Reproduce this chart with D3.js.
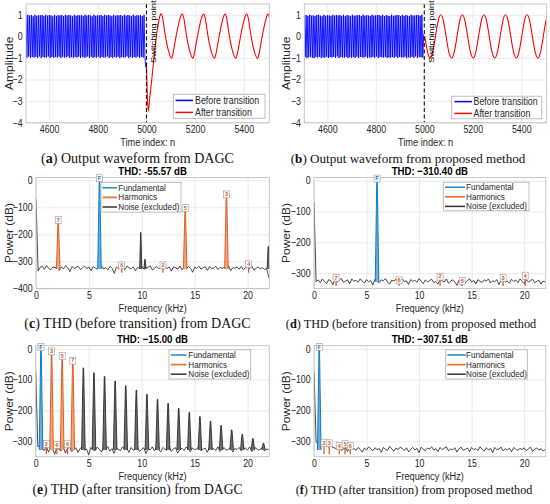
<!DOCTYPE html>
<html><head><meta charset="utf-8">
<script src="https://cdn.jsdelivr.net/npm/d3@7"></script>
<style>body{margin:0;background:#fff}</style>
</head><body><svg id="chart" width="550" height="504"></svg>
<script>
// ---------------- DATA ----------------
const timeTicks = [4600, 4800, 5000, 5200, 5400];
const ampTicks = [-4, -3, -2, -1, 0, 1];
const freqTicks = [0, 5, 10, 15, 20];
const dbTicksC = [-400, -300, -200, -100, 0];
const dbTicks = [-300, -200, -100, 0];
const switchN = 5000;
const blueStartN = 4505, blueHalfPeriod = 3.675;   // sample index of first extreme, samples between extremes
const blueA = [0.97,-0.99,1.00,-0.94,0.96,-1.00,0.99,-0.96,0.93,-0.98,1.00,-0.95,0.95,-0.99,0.98,-0.93,0.97,-1.00,0.99,-0.95,
0.94,-0.98,1.00,-0.97,0.96,-0.93,0.99,-1.00,0.97,-0.95,0.93,-0.99,1.00,-0.96,0.95,-0.98,0.98,-0.94,0.97,-1.00,
0.99,-0.95,0.94,-0.98,1.00,-0.97,0.96,-0.93,0.99,-1.00,0.97,-0.96,0.93,-0.99,1.00,-0.95,0.95,-0.98,0.98,-0.94,
0.97,-1.00,0.99,-0.96,0.94,-0.98,1.00,-0.97,0.96,-0.93,0.99,-1.00,0.97,-0.95,0.93,-0.99,1.00,-0.96,0.95,-0.98,
0.98,-0.94,0.97,-1.00,0.99,-0.95,0.94,-0.98,1.00,-0.97,0.96,-0.93,0.99,-1.00,0.97,-0.96,0.93,-0.99,1.00,-0.95,
0.95,-0.98,0.98,-0.94,0.97,-1.00,0.99,-0.96,0.94,-0.98,1.00,-0.97,0.96,-0.93,0.99,-1.00,0.97,-0.95,0.93,-0.99,
1.00,-0.96,0.95,-0.98,0.98,-0.94,0.97,-1.00,0.99,-0.95,0.94,-0.98,1.00,-0.97,-1.45];
const blueB = [0.98,-0.96,0.99,-1.00,0.95,-0.97,1.00,-0.94,0.96,-0.99,0.97,-1.00,0.94,-0.96,0.99,-0.98,1.00,-0.95,0.96,-0.99,
0.93,-0.97,1.00,-0.99,0.95,-0.94,0.98,-1.00,0.97,-0.96,0.94,-0.98,1.00,-0.95,0.96,-0.99,0.99,-0.93,0.97,-1.00,
0.98,-0.96,0.95,-0.97,1.00,-0.98,0.94,-0.95,0.99,-1.00,0.96,-0.97,0.93,-0.98,1.00,-0.96,0.95,-0.99,0.97,-0.94,
0.98,-1.00,0.99,-0.95,0.94,-0.97,1.00,-0.98,0.95,-0.94,0.99,-1.00,0.96,-0.97,0.94,-0.98,1.00,-0.95,0.96,-0.99,
0.97,-0.93,0.98,-1.00,0.99,-0.96,0.95,-0.97,1.00,-0.98,0.94,-0.95,0.99,-1.00,0.96,-0.97,0.94,-0.98,1.00,-0.96,
0.95,-0.99,0.97,-0.94,0.98,-1.00,0.99,-0.95,0.94,-0.97,1.00,-0.98,0.95,-0.94,0.99,-1.00,0.96,-0.97,0.93,-0.98,
1.00,-0.95,0.96,-0.99,0.97,-0.93,0.98,-1.00,0.99,-0.96,0.95,-0.97,1.00,-0.98,0.10];
const redA = [[5000,-1.3],[5004,-2.9],[5008,-3.45],[5013,-2.9],[5021,-2.1],[5031,-1.0],[5042,0.1],[5052,0.8],[5058,1.02],[5061,1.05],
[5066,0.88],[5074,0.3],[5084,-0.35],[5094,-0.8],[5103,-1.02],[5108,-0.85],[5117,-0.3],[5127,0.3],[5137,0.8],[5144,1.0],[5148,1.04],
[5153,0.88],[5161,0.3],[5171,-0.35],[5181,-0.8],[5191,-1.02],[5196,-0.85],[5205,-0.3],[5215,0.3],[5225,0.8],[5232,1.0],[5236,1.04],
[5241,0.88],[5249,0.3],[5259,-0.35],[5269,-0.8],[5280,-1.02],[5285,-0.85],[5294,-0.3],[5304,0.3],[5314,0.8],[5320,1.0],[5324,1.04],
[5329,0.88],[5337,0.3],[5347,-0.35],[5357,-0.8],[5368,-1.02],[5373,-0.85],[5382,-0.3],[5392,0.3],[5402,0.8],[5409,1.0],[5413,1.04],
[5418,0.88],[5426,0.3],[5436,-0.35],[5446,-0.8],[5457,-1.02],[5462,-0.85],[5471,-0.3],[5481,0.3],[5491,0.8],[5497,1.0],[5501,1.04],[5506,0.88]];
const redB = [[5002,0],[5013,-0.71],[5024,-1],[5035,-0.71],[5046,0],[5057,0.71],[5068,1],[5079,0.71],[5090,0],[5101,-0.71],[5113,-1],
[5124,-0.71],[5135,0],[5146,0.71],[5157,1],[5168,0.71],[5179,0],[5190,-0.71],[5202,-1],[5213,-0.71],[5224,0],[5235,0.71],[5246,1],
[5257,0.71],[5268,0],[5279,-0.71],[5291,-1],[5302,-0.71],[5313,0],[5324,0.71],[5335,1],[5346,0.71],[5357,0],[5368,-0.71],[5380,-1],
[5391,-0.71],[5402,0],[5413,0.71],[5424,1],[5435,0.71],[5446,0],[5457,-0.71],[5469,-1],[5480,-0.71],[5491,0],[5502,0.71],[5513,1]];

const noiseStepKHz = 0.2;
const noiseC = [-70,-335,-322,-318,-329,-316,-326,-331,-320,-324,-317,-333,-321,-327,-315,-323,-338,-319,-326,-322,
-318,-330,-324,-317,-327,-321,-334,-319,-325,-329,-320,-316,-328,-323,-331,-318,-326,-344,-321,-327,
-319,-325,-330,-317,-323,-328,-320,-335,-322,-326,-318,-329,-324,-321,-316,-332,-325,-319,-327,-323,
-330,-318,-326,-321,-336,-320,-324,-328,-317,-331,-322,-327,-319,-325,-340,-321,-326,-318,-329,-323,
-320,-333,-319,-327,-324,-318,-330,-322,-326,-321,-328,-317,-334,-323,-325,-320,-329,-319,-331,-324,
-321,-327,-318,-332,-325,-320,-328,-323,-330,-326,-360];
const noiseD = [-70,-328,-322,-331,-319,-327,-334,-321,-325,-338,-320,-329,-324,-317,-330,-326,-322,-335,-319,-327,
-323,-330,-318,-326,-333,-321,-328,-324,-339,-320,-327,-331,-322,-325,-318,-329,-336,-323,-326,-320,
-332,-324,-319,-328,-325,-337,-321,-327,-323,-330,-318,-326,-334,-322,-329,-324,-320,-331,-327,-336,
-321,-325,-329,-319,-333,-326,-322,-328,-340,-323,-327,-320,-331,-325,-318,-329,-324,-335,-321,-327,
-330,-322,-326,-319,-332,-325,-328,-321,-337,-324,-318,-329,-326,-333,-320,-327,-323,-331,-319,-326,
-334,-322,-328,-325,-320,-331,-327,-323,-336,-326,-329];
const noiseE = [-72,-318,-314,-322,-330,-316,-335,-321,-326,-342,-318,-327,-331,-320,-338,-324,-319,-333,-327,-321,
-336,-323,-318,-329,-325,-344,-320,-327,-331,-319,-326,-335,-322,-328,-317,-332,-324,-339,-321,-326,
-330,-318,-327,-323,-336,-320,-329,-325,-319,-333,-326,-321,-340,-324,-328,-318,-331,-322,-327,-335,
-320,-326,-329,-317,-333,-324,-321,-338,-327,-322,-330,-319,-325,-334,-321,-328,-324,-318,-331,-326,
-322,-336,-320,-327,-324,-330,-318,-333,-325,-321,-329,-326,-319,-335,-323,-327,-320,-331,-325,-322,
-328,-318,-333,-324,-321,-329,-326,-320,-332,-325,-328];
const noiseF = [-72,-300,-312,-308,-314,-310,-313,-318,-315,-320,-322,-326,-318,-330,-324,-321,-333,-319,-327,-323,
-329,-320,-326,-335,-322,-328,-318,-325,-331,-321,-327,-324,-336,-320,-326,-329,-317,-325,-332,-322,
-327,-319,-324,-330,-321,-334,-326,-320,-328,-323,-337,-319,-326,-331,-322,-325,-318,-329,-324,-333,
-320,-327,-322,-318,-331,-325,-328,-321,-335,-324,-319,-329,-326,-322,-333,-320,-327,-324,-330,-318,
-326,-332,-321,-328,-323,-337,-320,-327,-325,-319,-331,-324,-328,-322,-334,-320,-326,-329,-323,-327,
-321,-330,-325,-319,-333,-326,-322,-328,-324,-331,-327];

// peaks: [frequency kHz, top dB, label]
const fundC = [[6.0, 0, 'F']];
const harmC = [[2.1,-155,'7'],[8.1,-322,'6'],[12.0,-322,'2'],[14.1,-110,'5'],[18.0,-60,'3'],[20.1,-318,'4']];
const spikesC = [[9.9,-193],[10.3,-292],[21.95,-245]];
const fundD = [[6.0, 0, 'F']];
const harmD = [[2.1,-322,'7'],[8.1,-330,'6'],[12.0,-318,'2'],[14.1,-332,'5'],[18.0,-322,'3'],[20.1,-315,'4']];
const spikesD = [];
const fundE = [[0.5, 0, 'F']];
const harmE = [[1.0,-315,'2'],[1.5,-15,'3'],[2.0,-318,'4'],[2.5,-30,'5'],[3.0,-316,'6'],[3.5,-45,'7']];
const spikesE = [[4.5,-62],[5.5,-78],[6.5,-90],[7.5,-105],[8.5,-120],[9.5,-134],[10.5,-148],[11.5,-164],[12.5,-177],
[13.5,-193],[14.5,-206],[15.5,-220],[16.5,-235],[17.5,-249],[18.5,-263],[19.5,-277],[20.5,-291],[21.5,-306]];
const fundF = [[0.5, 0, 'F']];
const harmF = [[0.95,-313,'2'],[1.45,-313,'3'],[2.4,-322,'4'],[2.95,-316,'5'],[3.45,-322,'6']];
const spikesF = [];

const thdTitles = ['THD: -55.57 dB', 'THD: \u2212310.40 dB', 'THD: \u221215.00 dB', 'THD: \u2212307.51 dB'];
const waveLegend = ['Before transition', 'After transition'];
const specLegend = ['Fundamental', 'Harmonics', 'Noise (excluded)'];
const captions = [
  ['a', ' Output waveform from DAGC'], ['b', ' Output waveform from proposed method'],
  ['c', ' THD (before transition) from DAGC'], ['d', ' THD (before transition) from proposed method'],
  ['e', ' THD (after transition) from DAGC'], ['f', ' THD (after transition) from proposed method']];

// ---------------- DRAWING ----------------
const SQ = 0.84;
const SANS = '"Liberation Sans", Arial, Helvetica, sans-serif';
const SERIF = '"Liberation Serif", "Times New Roman", serif';
const svg = d3.select('#chart');
const C = {blue:'#0000ff', red:'#ff0000', fund:'#0072bd', fundFill:'#6aaee2', harm:'#d95319', harmFill:'#f2a57c',
  noise:'#1a1a1a', spikeFill:'#707070', grid:'#e6e6e6', frame:'#c2c2c2', tick:'#262626'};

function txt(parent, x, y, s, o = {}) {
  const sq = o.sq != null ? o.sq : SQ;
  const tr = `translate(${x},${y})` + (o.rot ? ` rotate(${o.rot}) scale(1,${sq})` : ` scale(${sq},1)`);
  return parent.append('text').attr('transform', tr)
    .attr('font-family', o.family || SANS).attr('font-size', o.size || 10.5)
    .attr('font-weight', o.bold ? 'bold' : 'normal')
    .attr('text-anchor', o.anchor || 'middle').attr('fill', o.color || C.tick).text(s);
}

let clipId = 0;
function makePanel(L) {
  const x = d3.scaleLinear().domain(L.xDomain).range([L.left, L.right]);
  const y = d3.scaleLinear().domain(L.yDomain).range([L.bottom, L.top]);
  const g = svg.append('g');
  const h = L.bottom - L.top, w = L.right - L.left;
  const ax = g.append('g').attr('transform', `translate(0,${L.bottom})`)
    .call(d3.axisBottom(x).tickValues(L.xTicks).tickSize(-h).tickPadding(3).tickFormat(d3.format('d')));
  const ay = g.append('g').attr('transform', `translate(${L.left},0)`)
    .call(d3.axisLeft(y).tickValues(L.yTicks).tickSize(-w).tickPadding(4).tickFormat(d3.format('d')));
  [ax, ay].forEach(a => {
    a.select('.domain').remove();
    a.selectAll('line').attr('stroke', C.grid).attr('stroke-width', 0.8);
    a.selectAll('text').attr('font-family', SANS).attr('font-size', 10.5).attr('fill', C.tick)
      .attr('transform', `scale(${SQ},1)`);
  });
  const id = 'clip' + (clipId++);
  svg.append('clipPath').attr('id', id).append('rect')
    .attr('x', L.left).attr('y', L.top).attr('width', w).attr('height', h);
  const plot = g.append('g').attr('clip-path', `url(#${id})`);
  const over = svg.append('g');
  return {x, y, g, plot, over, L};
}
function frame(P) {
  const L = P.L;
  P.over.append('rect').attr('x', L.left).attr('y', L.top).attr('width', L.right - L.left)
    .attr('height', L.bottom - L.top).attr('fill', 'none').attr('stroke', C.frame).attr('stroke-width', 0.9);
}
function legend(P, B, items, fs, sq) {
  const g = P.over.append('g');
  g.append('rect').attr('x', B.x).attr('y', B.y).attr('width', B.w).attr('height', B.h)
    .attr('fill', '#fff').attr('stroke', '#aeaeae').attr('stroke-width', 0.8);
  items.forEach((it, i) => {
    g.append('line').attr('x1', B.l0).attr('x2', B.l1).attr('y1', B.rows[i]).attr('y2', B.rows[i])
      .attr('stroke', it.color).attr('stroke-width', it.lw);
    txt(g, B.tx, B.rows[i] + fs * 0.36, it.label, {size: fs, anchor: 'start', sq: sq});
  });
}

function wavePanel(L, blue, red, redCurve) {
  const P = makePanel(L);
  const blueLine = d3.line().x((d, i) => P.x(blueStartN + i * blueHalfPeriod)).y(d => P.y(d));
  P.plot.append('path').attr('d', blueLine(blue)).attr('fill', 'none').attr('stroke', C.blue).attr('stroke-width', 0.9);
  const redLine = d3.line().x(d => P.x(d[0])).y(d => P.y(d[1])).curve(redCurve);
  P.plot.append('path').attr('d', redLine(red)).attr('fill', 'none').attr('stroke', C.red).attr('stroke-width', 1.1);
  P.plot.append('line').attr('x1', P.x(switchN)).attr('x2', P.x(switchN)).attr('y1', L.top).attr('y2', L.bottom)
    .attr('stroke', '#111').attr('stroke-width', 1.1).attr('stroke-dasharray', '4,2.5');
  frame(P);
  txt(P.over, P.x(switchN) + 9.5, 0.5, 'Switching point', {rot: -90, size: 9.3, anchor: 'end', color: '#000'});
  txt(P.over, (L.left + L.right) / 2, L.bottom + 23, 'Time index: n', {size: 11});
  txt(P.over, L.ylabX, (L.top + L.bottom) / 2 + 0, 'Amplitude', {rot: -90, size: 12});
  legend(P, L.legend, [{label: waveLegend[0], color: C.blue, lw: 1.5}, {label: waveLegend[1], color: C.red, lw: 1.5}], 10.5, SQ);
  return P;
}

function specPanel(L, noise, fund, harm, spikes, title) {
  const P = makePanel(L);
  const nl = d3.line().x((d, i) => P.x(i * noiseStepKHz)).y(d => P.y(d));
  P.plot.append('path').attr('d', nl(noise)).attr('fill', 'none').attr('stroke', C.noise).attr('stroke-width', 0.8);
  const hw = L.hw, base = -328;
  const pk = d3.line().x(d => P.x(d[0])).y(d => P.y(d[1]));
  const tri = (f, top, k) => pk([[f - hw * k, base], [f - hw * k * 0.15, top], [f + hw * k * 0.15, top], [f + hw * k, base]]);
  spikes.forEach(s => P.plot.append('path').attr('d', tri(s[0], s[1], L.spikeK)).attr('fill', C.spikeFill)
    .attr('stroke', C.noise).attr('stroke-width', 0.8));
  const drawPk = (arr, stroke, fill) => arr.forEach(p => {
    if (p[1] > -290) {
      P.plot.append('path').attr('d', tri(p[0], p[1], 1)).attr('fill', fill).attr('stroke', stroke).attr('stroke-width', 0.9);
    } else {
      P.plot.append('path').attr('d', pk([[p[0], p[1]], [p[0], -342]])).attr('stroke', stroke).attr('stroke-width', 1.2);
    }
  });
  drawPk(harm, C.harm, C.harmFill);
  drawPk(fund, C.fund, C.fundFill);
  frame(P);
  const box = (p, color) => {
    const cx = P.x(p[0]), by = P.y(p[1]) + 1.5;
    P.over.append('rect').attr('x', cx - 3).attr('y', by - 7).attr('width', 6).attr('height', 7)
      .attr('fill', '#fff').attr('fill-opacity', 0.85).attr('stroke', '#999').attr('stroke-width', 0.6);
    P.over.append('text').attr('x', cx).attr('y', by - 1.7).attr('text-anchor', 'middle')
      .attr('font-family', SANS).attr('font-size', 5.5).attr('font-weight', 'bold').attr('fill', color).text(p[2]);
  };
  harm.forEach(p => box(p, C.harm));
  fund.forEach(p => box(p, C.fund));
  txt(P.over, (L.left + L.right) / 2, L.top - 2.5, title, {size: 11.5, bold: true, color: '#000'});
  txt(P.over, (L.left + L.right) / 2, L.bottom + 23, 'Frequency (kHz)', {size: 11});
  txt(P.over, L.ylabX, (L.top + L.bottom) / 2, 'Power (dB)', {rot: -90, size: 12});
  legend(P, L.legend, [{label: specLegend[0], color: C.fund, lw: 1.3}, {label: specLegend[1], color: '#e5763f', lw: 1.8},
    {label: specLegend[2], color: '#333', lw: 1.5}], 8.4, 0.97);
  return P;
}

const waveBase = {xDomain: [4505, 5505], yDomain: [-4, 1.5], xTicks: timeTicks, yTicks: ampTicks, top: 4, bottom: 122.7};
wavePanel(Object.assign({}, waveBase, {left: 26, right: 269.3, ylabX: 12.5,
  legend: {x: 173.3, y: 94.3, w: 91.7, h: 24, rows: [100.4, 112.4], l0: 175.5, l1: 193, tx: 195}}), blueA, redA, d3.curveMonotoneX);
wavePanel(Object.assign({}, waveBase, {left: 304.3, right: 546.7, ylabX: 289.5,
  legend: {x: 451.7, y: 96.2, w: 90, h: 22.6, rows: [101.6, 113.4], l0: 454.5, l1: 472, tx: 473.5}}), blueB, redB, d3.curveNatural);

const spec = (o) => Object.assign({xDomain: [0, 22.05], xTicks: freqTicks, hw: 0.17, spikeK: 1}, o);
specPanel(spec({left: 36, right: 269.3, top: 177.5, bottom: 288.5, yDomain: [-400, 10], yTicks: dbTicksC, ylabX: 12.5, spikeK: 0.6,
  legend: {x: 101, y: 182.5, w: 80, h: 29.6, rows: [187.8, 197.4, 207], l0: 102.5, l1: 117, tx: 118.3}}),
  noiseC, fundC, harmC, spikesC, thdTitles[0]);
specPanel(spec({left: 314, right: 545.7, top: 177.5, bottom: 288.5, yDomain: [-350, 10], yTicks: dbTicks, ylabX: 289.5,
  legend: {x: 443.3, y: 182.2, w: 85.7, h: 28.6, rows: [187.2, 196.8, 206.4], l0: 445, l1: 465, tx: 466}}),
  noiseD, fundD, harmD, spikesD, thdTitles[1]);
specPanel(spec({left: 35.7, right: 269.3, top: 345.7, bottom: 456.7, yDomain: [-350, 10], yTicks: dbTicks, ylabX: 12.5,
  legend: {x: 169, y: 349.8, w: 81.7, h: 29.2, rows: [355, 364.6, 374.2], l0: 170.7, l1: 186.5, tx: 188.3}}),
  noiseE, fundE, harmE, spikesE, thdTitles[2]);
specPanel(spec({left: 314, right: 545.7, top: 345.7, bottom: 456.7, yDomain: [-350, 10], yTicks: dbTicks, ylabX: 289.5,
  legend: {x: 445.7, y: 349.8, w: 81.6, h: 29.2, rows: [355, 364.6, 374.2], l0: 447.3, l1: 465.7, tx: 466}}),
  noiseF, fundF, harmF, spikesF, thdTitles[3]);

// captions
const capPos = [[137.5, 162.5, 14], [408, 162.5, 13.1], [137.5, 327.5, 14], [411, 327.5, 12.3], [137.5, 493.5, 13.6], [414, 493.5, 12.2]];
captions.forEach((c, i) => {
  const t = svg.append('text').attr('x', capPos[i][0]).attr('y', capPos[i][1]).attr('text-anchor', 'middle')
    .attr('font-family', SERIF).attr('font-size', capPos[i][2]).attr('fill', '#111');
  t.append('tspan').text('(');
  t.append('tspan').attr('font-weight', 'bold').text(c[0]);
  t.append('tspan').text(')' + c[1]);
});
</script></body></html>
